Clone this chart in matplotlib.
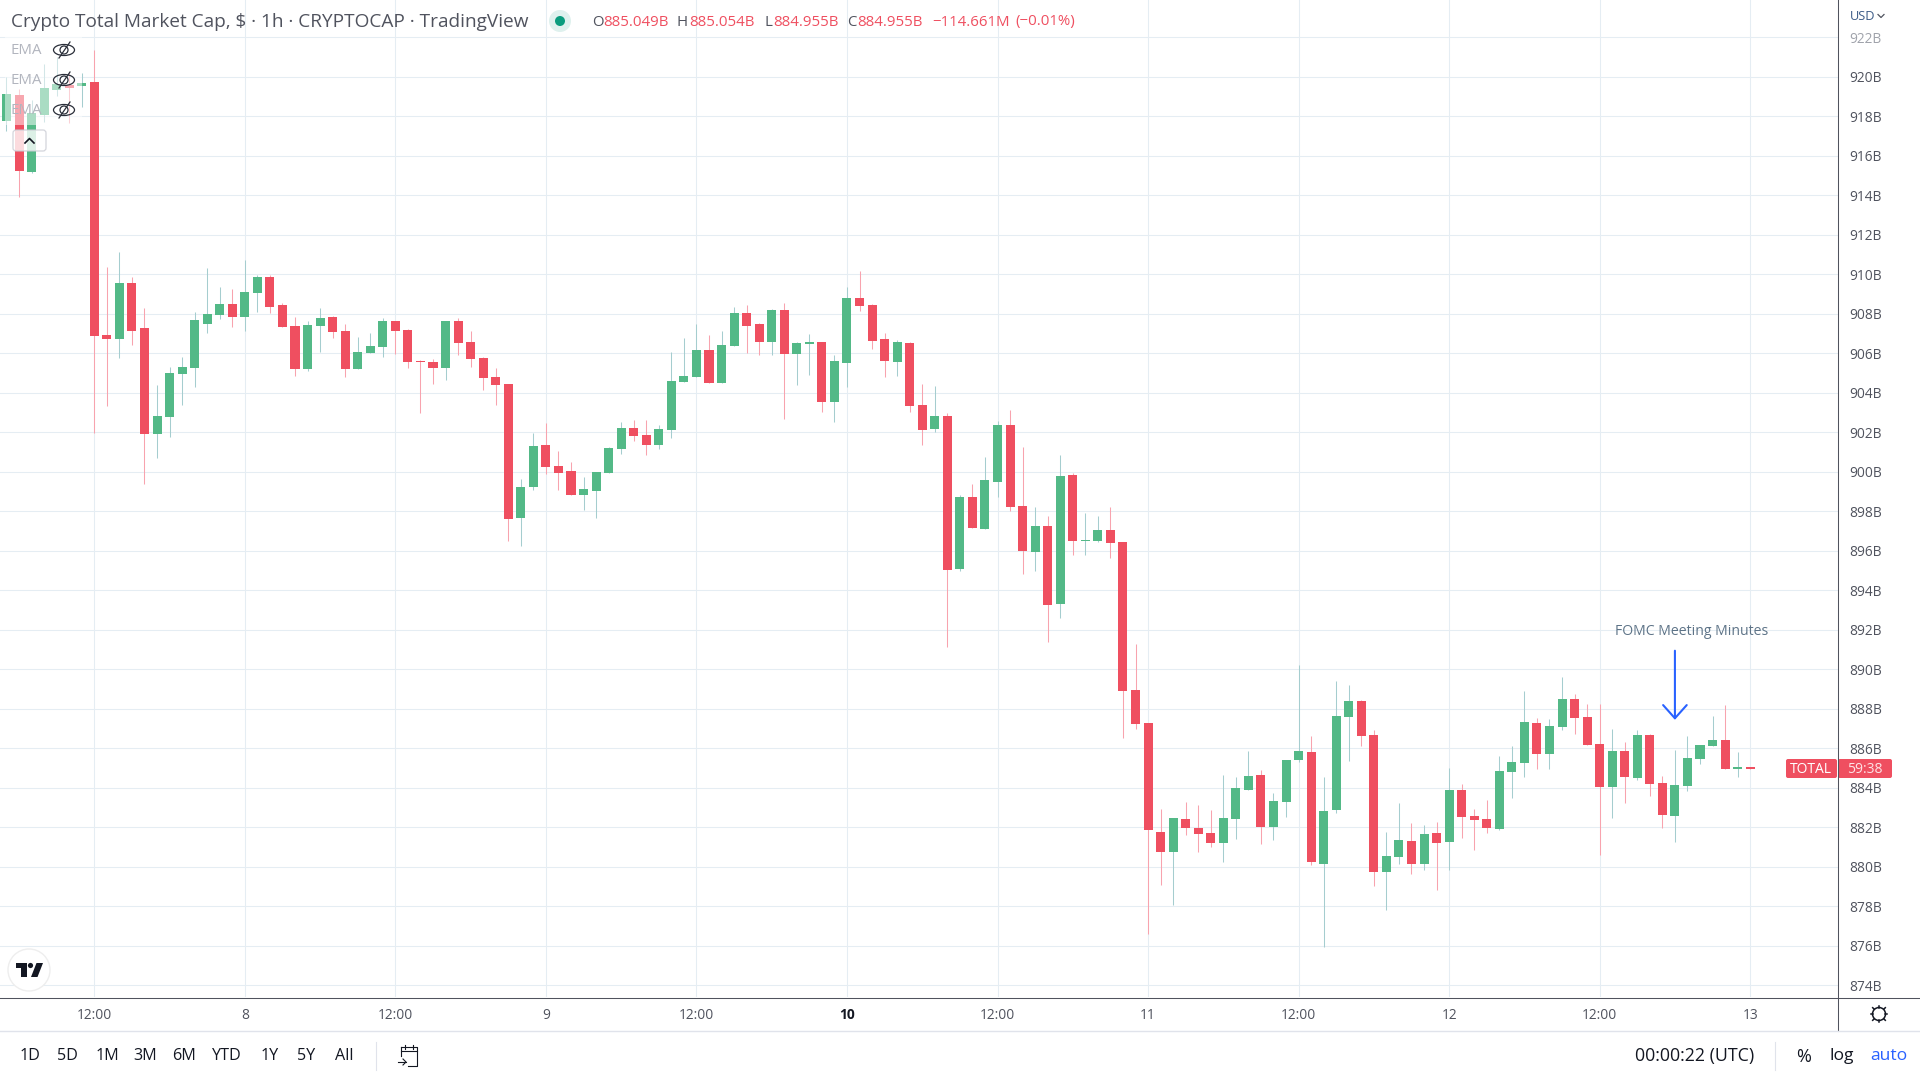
import matplotlib
matplotlib.use('Agg')
import matplotlib.pyplot as plt
from matplotlib.patches import Circle, Ellipse, FancyBboxPatch, Polygon, Rectangle

# hourly bars, first one is 05:00 on the 7th, index 0 is 12:00
first_bar = -7
opens = [917.76, 919.08, 915.18, 918.07, 919.33, 919.58, 919.53, 919.74, 906.93, 906.73,
         909.56, 907.28, 901.92, 902.78, 904.95, 905.26, 907.49, 907.94, 908.50, 907.84,
         909.05, 909.86, 908.45, 907.38, 905.21, 907.38, 907.84, 907.13, 905.21, 906.02,
         906.32, 907.64, 907.18, 905.61, 905.56, 905.26, 907.64, 906.57, 905.76, 904.80,
         904.45, 897.66, 899.23, 901.36, 900.30, 900.02, 898.80, 899.05, 899.92, 901.13,
         902.24, 901.84, 901.38, 902.14, 904.57, 904.78, 906.19, 904.52, 906.35, 908.02,
         907.46, 906.55, 908.17, 905.94, 906.45, 906.55, 903.51, 905.49, 908.78, 908.47,
         906.70, 905.54, 906.50, 903.36, 902.19, 902.80, 895.07, 898.72, 897.10, 899.48,
         902.37, 898.27, 895.94, 897.25, 893.30, 899.84, 896.49, 896.49, 897.05, 896.44,
         888.94, 887.26, 881.78, 880.76, 882.44, 881.98, 881.73, 881.22, 882.44, 883.91,
         884.67, 882.03, 883.30, 885.43, 885.79, 880.16, 882.89, 887.56, 888.37, 886.65,
         879.75, 880.51, 881.32, 880.16, 881.73, 881.27, 883.91, 882.59, 882.44, 881.93,
         884.82, 885.23, 887.26, 885.73, 887.10, 888.47, 887.56, 886.24, 884.06, 885.84,
         884.47, 886.65, 884.26, 882.59, 884.11, 885.48, 886.09, 886.44, 884.97, 885.05]
closes = [919.13, 915.23, 918.17, 919.43, 919.64, 919.43, 919.68, 906.88, 906.73, 909.56,
          907.13, 901.92, 902.83, 905.00, 905.31, 907.69, 907.99, 908.50, 907.84, 909.11,
          909.86, 908.35, 907.33, 905.21, 907.43, 907.79, 907.08, 905.21, 906.07, 906.37,
          907.64, 907.13, 905.56, 905.56, 905.26, 907.64, 906.52, 905.71, 904.75, 904.40,
          897.61, 899.23, 901.31, 900.24, 899.94, 898.85, 899.11, 899.97, 901.18, 902.24,
          901.79, 901.38, 902.19, 904.62, 904.83, 906.19, 904.52, 906.40, 908.02, 907.36,
          906.55, 908.17, 905.94, 906.50, 906.55, 903.51, 905.59, 908.78, 908.42, 906.60,
          905.59, 906.55, 903.31, 902.14, 902.80, 895.02, 898.72, 897.15, 899.58, 902.37,
          898.22, 895.99, 897.25, 893.25, 899.79, 896.49, 896.54, 897.05, 896.39, 888.89,
          887.21, 881.88, 880.76, 882.49, 881.98, 881.68, 881.22, 882.49, 884.01, 884.62,
          882.03, 883.35, 885.43, 885.84, 880.26, 882.84, 887.61, 888.37, 886.60, 879.75,
          880.56, 881.37, 880.16, 881.68, 881.22, 883.91, 882.54, 882.39, 881.98, 884.87,
          885.28, 887.31, 885.73, 887.15, 888.47, 887.51, 886.19, 884.06, 885.84, 884.52,
          886.65, 884.21, 882.64, 884.16, 885.53, 886.19, 886.44, 884.97, 885.07, 884.96]
highs = [919.97, 919.37, 918.83, 920.65, 921.02, 920.26, 920.19, 921.36, 910.37, 911.13,
         909.86, 908.30, 904.40, 905.31, 905.81, 908.09, 910.32, 909.36, 909.26, 910.73,
         909.97, 909.97, 908.55, 907.84, 907.64, 908.30, 907.89, 907.49, 906.83, 907.03,
         907.79, 907.64, 907.23, 905.66, 905.71, 907.64, 907.79, 907.13, 905.81, 905.26,
         904.45, 899.61, 901.97, 902.47, 901.05, 900.52, 899.76, 899.97, 901.28, 902.50,
         902.60, 902.60, 902.35, 906.09, 906.80, 907.46, 906.95, 907.11, 908.32, 908.47,
         907.51, 908.22, 908.57, 906.55, 907.00, 906.55, 905.89, 909.38, 910.17, 908.52,
         907.05, 906.65, 906.55, 904.47, 904.32, 903.00, 898.82, 899.38, 900.75, 902.57,
         903.13, 901.26, 898.22, 897.76, 900.85, 899.94, 897.91, 897.76, 898.22, 896.44,
         891.27, 887.26, 882.95, 882.49, 883.30, 883.15, 882.89, 884.67, 884.57, 885.84,
         884.92, 883.71, 885.43, 890.20, 886.60, 884.57, 889.39, 889.18, 888.42, 886.90,
         881.78, 883.25, 882.24, 882.13, 882.29, 885.02, 884.21, 882.95, 883.40, 885.63,
         886.14, 888.88, 887.51, 887.46, 889.59, 888.73, 888.22, 888.22, 887.00, 886.34,
         886.90, 886.70, 884.62, 885.89, 886.60, 886.19, 887.61, 888.17, 885.79, 885.05]
lows = [917.26, 913.93, 915.13, 917.71, 919.03, 917.68, 918.47, 901.98, 903.35, 905.76,
        906.42, 899.38, 900.70, 901.76, 903.38, 904.30, 907.03, 907.74, 907.33, 907.13,
        908.09, 908.04, 907.33, 904.85, 905.11, 906.07, 906.78, 904.80, 905.21, 906.02,
        905.81, 905.97, 905.26, 902.98, 904.45, 904.65, 905.92, 905.31, 904.14, 903.38,
        896.50, 896.24, 899.08, 899.89, 899.08, 898.80, 898.04, 897.64, 899.92, 900.88,
        901.54, 900.83, 901.13, 901.69, 904.57, 904.78, 904.52, 904.52, 906.35, 905.99,
        905.89, 905.89, 902.65, 904.42, 904.88, 903.05, 902.50, 904.27, 908.12, 906.24,
        904.78, 904.83, 903.05, 901.38, 902.04, 891.12, 894.97, 897.15, 897.10, 898.72,
        898.01, 894.82, 894.97, 891.37, 892.59, 895.78, 895.78, 896.44, 895.63, 886.50,
        887.00, 876.61, 879.09, 878.08, 881.63, 880.76, 881.02, 880.26, 881.42, 883.91,
        881.17, 881.37, 882.54, 885.33, 880.10, 875.95, 882.74, 885.38, 886.09, 879.04,
        877.82, 880.16, 879.65, 879.85, 878.84, 879.85, 881.47, 880.87, 881.73, 881.88,
        883.50, 884.52, 884.97, 884.97, 886.95, 886.70, 886.19, 880.61, 882.49, 883.25,
        884.37, 883.60, 881.98, 881.27, 883.86, 885.18, 886.09, 884.97, 884.57, 884.96]

price_ticks = list(range(874, 924, 2))
time_ticks = list(range(0, 144, 12))
time_labels = ['12:00', '8', '12:00', '9', '12:00', '10', '12:00', '11', '12:00', '12', '12:00', '13']
period_labels = ['1D', '5D', '1M', '3M', '6M', 'YTD', '1Y', '5Y', 'All']
period_x = [30, 67, 107, 145, 184, 227, 270, 306, 344]

RED = '#ef4f60'
RED_WICK = '#f8a3ae'
GREEN = '#53b987'
GREEN_WICK = '#a5cdcf'
GRID = '#e5edf3'
AXIS = '#50535e'
FONT = ['Open Sans', 'DejaVu Sans']
plt.rcParams['font.family'] = FONT


def eye(px, x, y):
    px.add_patch(Ellipse((x, y), 21, 11, fill=False, ec='#2a2e39', lw=0.9))
    px.add_patch(Circle((x, y), 4, fill=False, ec='#2a2e39', lw=0.9))
    px.plot([x - 5, x + 6], [y + 8, y - 8], color='#2a2e39', lw=0.9)


def gear(px, x, y):
    px.add_patch(Circle((x, y), 6.5, fill=False, ec='#131722', lw=1.1))
    for dx, dy in [(0, 8), (0, -8), (8, 0), (-8, 0), (6, 6), (-6, 6), (6, -6), (-6, -6)]:
        px.plot([x + dx * 0.8, x + dx * 1.05], [y + dy * 0.8, y + dy * 1.05], color='#131722', lw=1.1)


def draw_chart(fig):
    ax = fig.add_axes([0, (1080 - 997.3) / 1080, 1838 / 1920, 997.3 / 1080])
    xs = [first_bar + i for i in range(len(opens))]
    up = [c >= o for o, c in zip(opens, closes)]

    ax.vlines(xs, lows, highs, colors=[GREEN_WICK if u else RED_WICK for u in up], lw=0.75, zorder=2)
    ax.bar(xs, [abs(c - o) for o, c in zip(opens, closes)], bottom=[min(o, c) for o, c in zip(opens, closes)],
           width=0.72, color=[GREEN if u else RED for u in up], linewidth=0, zorder=3)

    # pane edges are the same pixels as the reference
    ax.set_xlim(-7.517, 139.0)
    ax.set_ylim(873.39, 923.89)
    ax.yaxis.tick_right()
    ax.set_yticks(price_ticks)
    ax.set_yticklabels(['%dB' % p for p in price_ticks], fontsize=9.9, color=AXIS)
    ax.get_yticklabels()[-1].set_color('#a0a3ab')
    ax.set_xticks(time_ticks)
    ax.set_xticklabels(time_labels, fontsize=9.9, color=AXIS)
    for lab in ax.get_xticklabels():
        if lab.get_text() == '10':
            lab.set_fontweight('bold')
            lab.set_color('#131722')
    ax.tick_params(axis='y', length=0, pad=8)
    ax.tick_params(axis='x', length=0, pad=8)
    ax.grid(True, color=GRID, lw=0.75, zorder=0)
    ax.set_axisbelow(True)
    for side in ['top', 'left', 'right', 'bottom']:
        ax.spines[side].set_visible(False)

    # FOMC note
    ax.annotate('', xy=(126, 887.44), xytext=(126, 890.94), annotation_clip=False,
                arrowprops=dict(arrowstyle='->,head_length=0.95,head_width=0.85', color='#2962ff', lw=1.5,
                                shrinkA=0, shrinkB=0))
    ax.text(127.3, 891.9, 'FOMC Meeting Minutes', color='#5d7387', fontsize=10.1, ha='center', va='center')
    return ax


def draw_overlay(fig):
    px = fig.add_axes([0, 0, 1, 1], facecolor='none', zorder=5)
    px.set_xlim(0, 1920)
    px.set_ylim(1080, 0)
    px.axis('off')

    px.text(11, 22, 'Crypto Total Market Cap, $ · 1h · CRYPTOCAP · TradingView', fontsize=13.7,
            color='#50535e', va='center')
    px.add_patch(Ellipse((560, 21), 22, 22, color='#dff1ee', lw=0))
    px.add_patch(Ellipse((560, 21), 10, 10, color='#0b9c7e', lw=0))

    # ohlc row
    row = [(592, 'O', AXIS), (603, '885.049B', RED), (677, 'H', AXIS), (689, '885.054B', RED),
           (764, 'L', AXIS), (773, '884.955B', RED), (847, 'C', AXIS), (857, '884.955B', RED),
           (932, '\u2212114.661M', RED), (1015, '(\u22120.01%)', RED)]
    for x, s, col in row:
        px.text(x, 22, s, fontsize=10.8, color=col, va='center')

    # legend rows wash out the candles behind them
    px.add_patch(Rectangle((5, 37), 77, 88, color='white', alpha=0.5, lw=0))
    for y in [51, 81, 111]:
        px.text(11, y, 'EMA', fontsize=10.8, color='#b2b5be', va='center')
        eye(px, 64, y - 1)
    px.add_patch(FancyBboxPatch((13, 130), 33, 21, boxstyle='round,pad=0,rounding_size=3', fc='white', alpha=0.8,
                                ec='#c9cbd3', lw=0.9))
    px.plot([25, 29.5, 34], [143, 138.5, 143], color='#131722', lw=1.2)

    # tv logo
    px.add_patch(Circle((29, 970), 21, fc='white', ec='#eeeeee', lw=1))
    px.add_patch(Polygon([(15.5, 963), (27, 963), (27, 977), (21, 977), (21, 968), (15.5, 968)], color='#131722', lw=0))
    px.add_patch(Circle((30.5, 965.5), 2.6, color='#131722', lw=0))
    px.add_patch(Polygon([(36.5, 963), (43, 963), (37.5, 977), (31, 977)], color='#131722', lw=0))

    # total label
    px.add_patch(FancyBboxPatch((1786, 759), 51, 19, boxstyle='round,pad=0,rounding_size=2', color=RED, lw=0))
    px.add_patch(FancyBboxPatch((1838, 759), 54, 19, boxstyle='round,pad=0,rounding_size=2', color=RED, lw=0))
    px.text(1811, 769.5, 'TOTAL', fontsize=10, color='white', ha='center', va='center')
    px.text(1865, 769.5, '59:38', fontsize=10, color='#fde3e6', ha='center', va='center')

    px.text(1850, 16, 'USD', fontsize=9.2, color='#3b5a86', va='center')
    px.plot([1878, 1881, 1884], [14.5, 17.5, 14.5], color='#50535e', lw=0.9)

    # axis lines and bottom bar
    px.plot([0, 1920], [997.5, 997.5], color=AXIS, lw=0.75)
    px.plot([1838, 1838], [0, 1031], color=AXIS, lw=0.75)
    px.plot([0, 1920], [1031, 1031], color='#e0e3eb', lw=1)
    gear(px, 1879, 1014)
    for x, s in zip(period_x, period_labels):
        px.text(x, 1056.5, s, fontsize=11.6, color='#131722', ha='center', va='center')
    px.plot([375.5, 375.5], [1042, 1070], color='#e0e3eb', lw=0.8)
    px.plot([1775, 1775], [1042, 1070], color='#e0e3eb', lw=0.8)

    # go to date icon
    px.plot([401, 401], [1047, 1056], color='#131722', lw=0.8)
    px.plot([401, 417, 417, 408], [1047, 1047, 1066, 1066], color='#131722', lw=0.8)
    px.plot([401, 417], [1051, 1051], color='#131722', lw=0.8)
    px.plot([405, 405], [1045, 1049], color='#131722', lw=0.8)
    px.plot([413, 413], [1045, 1049], color='#131722', lw=0.8)
    px.plot([398, 406], [1062, 1062], color='#131722', lw=0.8)
    px.plot([403, 406, 403], [1059, 1062, 1065], color='#131722', lw=0.8)

    px.text(1695, 1056.5, '00:00:22 (UTC)', fontsize=12.8, color='#131722', ha='center', va='center')
    px.text(1804, 1056.5, '%', fontsize=13, color='#131722', ha='center', va='center')
    px.text(1842, 1056.5, 'log', fontsize=12.6, color='#131722', ha='center', va='center')
    px.text(1889, 1056.5, 'auto', fontsize=12.6, color='#2962ff', ha='center', va='center')


def main():
    fig = plt.figure(figsize=(19.2, 10.8), dpi=100)
    draw_chart(fig)
    draw_overlay(fig)
    fig.savefig('out.png', dpi=100, facecolor='white')
    plt.close(fig)


if __name__ == '__main__':
    main()
